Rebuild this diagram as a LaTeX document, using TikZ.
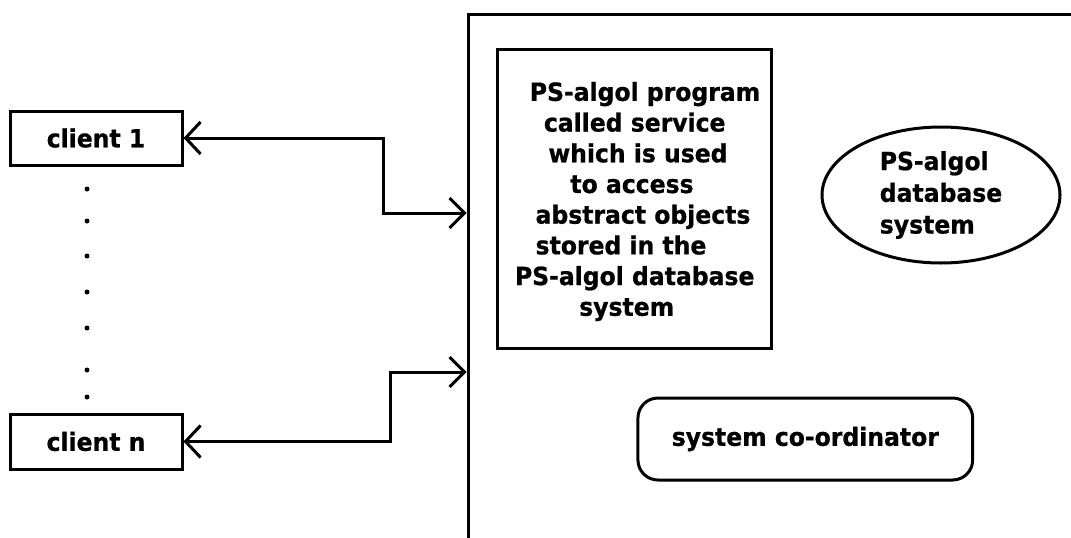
\documentclass[tikz,border=0pt]{standalone}
\usepackage{fontspec}
\setmainfont{DejaVu Sans}[FakeStretch=0.94,BoldFeatures={FakeBold=0.8}]
\usetikzlibrary{arrows.meta,shapes.geometric}
% shift a centred line right (\rsh) or left (\lsh) by half the given amount
\newcommand\rsh[2]{\mbox{\hspace*{#1}#2}}
\newcommand\lsh[2]{\mbox{#2\hspace*{#1}}}
\begin{document}
\begin{tikzpicture}[x=1pt,y=-1pt,
  every node/.style={font=\bfseries\fontsize{25}{30.7}\selectfont, inner sep=0pt},
  box/.style={draw, line width=3pt},
  conn/.style={line width=3pt,
    {Straight Barb[length=15pt,width=32pt]}-{Straight Barb[length=15pt,width=30pt]}},
  dot/.style={circle, fill, minimum size=5pt}]
\useasboundingbox (0,0) rectangle (1071,538);
\clip (0,0) rectangle (1071,538);

% server frame, running off the right and bottom edges
\node[box, anchor=north west, minimum width=640pt, minimum height=560pt] (server) at (466.7,12.7) {};

% clients
\node[box, minimum width=172pt, minimum height=54pt] (c1) at (96,138) {client 1};
\node[box, minimum width=172pt, minimum height=55pt] (cn) at (96,441.5) {client n};
\foreach \y [count=\i] in {189,221,256,292,328,370,397}
  \node[dot] (dot\i) at (87,\y) {};

% service program
\node[box, minimum width=274pt, minimum height=299pt, align=center] (svc) at (634.7,198.5)
  {\rule{0pt}{25pt}\rsh{20.6pt}{PS-algol program}\\
   called service\\
   \rsh{6.6pt}{which is used}\\
   \lsh{5.4pt}{to access}\\
   \rsh{16.6pt}{abstract objects}\\
   \lsh{27.4pt}{stored in the}\\
   PS-algol database\\
   \lsh{16pt}{system}};

% database
\node[box, ellipse, minimum width=238pt, minimum height=136pt, align=left,
      font=\bfseries\fontsize{25}{31.7}\selectfont] (db) at (941,195)
  {PS-algol\\database\\system};

% coordinator
\node[box, rounded corners=20pt, minimum width=334.7pt, minimum height=82pt] (coord) at (805.3,439)
  {system co-ordinator};

% connections
\coordinate (j1) at (383,213);
\coordinate (jn) at (390,372);
\draw[conn] (c1.east) -| (j1) -- (j1 -| server.west);
\draw[conn] (cn.east) -| (jn) -- (jn -| server.west);
\end{tikzpicture}
\end{document}
